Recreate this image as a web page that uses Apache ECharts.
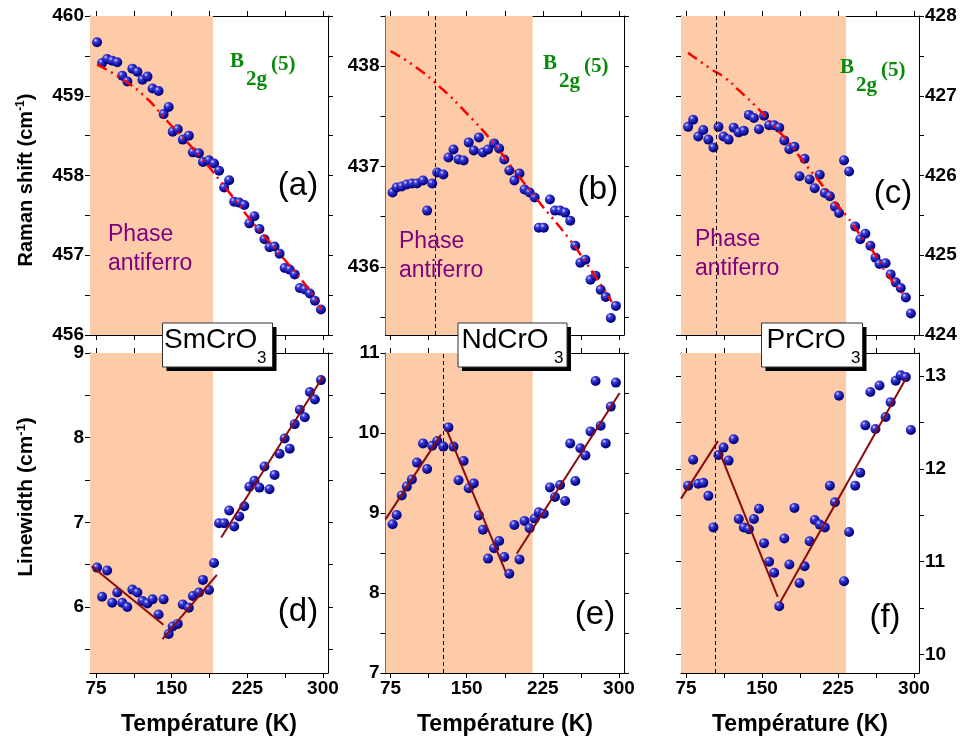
<!DOCTYPE html>
<html><head><meta charset="utf-8">
<script src="https://cdn.jsdelivr.net/npm/echarts@6/dist/echarts.min.js"></script>
<style>html,body{margin:0;padding:0;background:#fff}#c{width:960px;height:740px}</style>
</head><body><div id="c"></div>
<script>
// ---------- DATA ----------
const tempTicks  = [75, 112.5, 150, 187.5, 225, 262.5, 300];
const tempLabels = [75, 150, 225, 300];

const tempSm = [76,81,86,91,96,101,106,111,116,121,126,131,137,142,147,151,156,161,167,171,177,181,187,192,197,202,207,212,217,222,227,232,237,242,247,252,257,262,267,272,277,282,287,292,298];
const shiftSm = [459.67,459.41,459.46,459.44,459.42,459.25,459.18,459.34,459.30,459.20,459.24,459.09,459.06,458.77,458.86,458.55,458.58,458.45,458.50,458.29,458.28,458.17,458.19,458.15,458.06,457.85,457.94,457.67,457.66,457.63,457.40,457.49,457.33,457.20,457.10,457.11,457.02,456.84,456.82,456.76,456.59,456.57,456.52,456.43,456.32];
const widthSm = [6.465,6.12,6.43,6.05,6.17,6.05,6.0,6.205,6.17,6.07,6.04,6.09,5.91,6.09,5.68,5.77,5.80,6.03,5.99,6.13,6.17,6.32,6.20,6.52,6.99,6.99,7.14,6.95,7.07,7.19,7.42,7.49,7.41,7.66,7.39,7.56,7.81,7.99,7.87,8.16,8.33,8.24,8.54,8.45,8.68];

const tempNd = [77,81,86,91,96,101,107,111,116,121,127,132,137,142,147,152,157,162,166,171,177,182,187,192,197,202,207,212,217,221,226,232,237,242,247,252,257,262,267,272,277,282,287,292,297];
const shiftNd = [436.74,436.79,436.80,436.82,436.83,436.83,436.86,436.56,436.83,436.94,436.92,437.09,437.17,437.07,437.06,437.24,437.16,437.29,437.14,437.17,437.23,437.18,437.07,436.96,436.86,436.93,436.77,436.74,436.69,436.39,436.39,436.67,436.56,436.56,436.54,436.46,436.21,436.04,436.07,435.87,435.91,435.77,435.70,435.49,435.61];
const widthNd = [8.86,8.975,9.22,9.33,9.42,9.63,9.87,9.55,9.84,9.90,9.83,10.07,9.83,9.41,9.65,9.31,9.37,8.97,8.79,8.43,8.56,8.65,8.45,8.24,8.85,8.42,8.90,8.81,8.93,9.01,8.99,9.32,9.20,9.35,9.15,9.87,9.40,9.81,9.72,10.02,10.65,10.09,9.87,10.33,10.63];

const tempPr = [77,82,87,92,97,102,107,112,117,122,127,132,137,142,147,152,157,162,167,172,177,182,187,192,197,202,207,212,217,222,226,231,236,242,247,252,257,262,266,272,277,282,287,292,297];
const shiftPr = [426.61,426.70,426.49,426.57,426.45,426.35,426.61,426.49,426.45,426.60,426.54,426.56,426.76,426.72,426.58,426.75,426.63,426.63,426.60,426.44,426.33,426.36,425.99,426.21,425.95,425.84,426.01,425.78,425.74,425.61,425.53,426.19,426.05,425.36,425.20,425.27,425.12,424.97,424.89,424.90,424.76,424.66,424.59,424.47,424.27];
const widthPr = [11.82,12.10,11.84,11.85,11.71,11.37,12.15,12.23,12.09,12.32,11.46,11.37,11.35,11.46,11.57,11.20,11.00,10.88,10.52,11.25,10.97,11.58,10.77,10.95,11.22,11.45,11.40,11.37,11.82,11.64,12.79,10.79,11.32,11.82,11.96,12.47,12.83,12.43,12.90,12.56,12.72,12.95,13.01,12.99,12.42];

// anharmonic fits (red dash-dot-dot)
const fitShiftSm = [[76,459.39],[102,459.20],[125,458.97],[145,458.69],[178,458.24],[205,457.82],[231,457.40],[261,456.96],[289,456.52],[298,456.32]];
const fitShiftNd = [[75,438.15],[100,437.99],[125,437.78],[150,437.53],[175,437.25],[200,436.92],[225,436.60],[250,436.29],[275,435.93],[293,435.65]];
const fitShiftPr = [[77,427.54],[99,427.34],[114,427.22],[127,427.07],[146,426.84],[161,426.63],[176,426.42],[194,426.12],[207,425.92],[220,425.69],[233,425.50],[246,425.27],[260,425.04],[273,424.77],[289,424.52]];

// linear fits of linewidth (dark red)
const linWidthSm = [[[70.7,6.48],[141.8,5.79]], [[140.8,5.62],[194.8,6.38]], [[199.1,6.82],[300,8.72]]];
const linWidthNd = [[[70,8.92],[124.7,9.98]], [[130.3,10.04],[188.5,8.26]], [[199.3,8.49],[300.7,10.5]]];
const linWidthPr = [[[70,11.68],[106.5,12.30]], [[107.8,12.19],[165.5,10.62]], [[167.8,10.56],[292.4,12.98]]];

// transition temperatures (shaded region end) and dashed markers
const tNeelSm = 191, tNeelNd = 215, tNeelPr = 233;
const dashShiftNd = 119, dashWidthNd = 127, dashShiftPr = 105, dashWidthPr = 103.5;

// axis ranges / ticks
const yRangeShiftSm = [456, 460],   yTicksShiftSm = [456,456.5,457,457.5,458,458.5,459,459.5,460], yLabelsShiftSm = [456,457,458,459,460];
const yRangeShiftNd = [435.32, 438.5], yTicksShiftNd = [435.5,436,436.5,437,437.5,438,438.5], yLabelsShiftNd = [436,437,438];
const yRangeShiftPr = [424, 428],   yTicksShiftPr = [424,424.5,425,425.5,426,426.5,427,427.5,428], yLabelsShiftPr = [424,425,426,427,428];
const yRangeWidthSm = [5.22, 9],    yTicksWidthSm = [5.5,6,6.5,7,7.5,8,8.5,9], yLabelsWidthSm = [6,7,8,9];
const yRangeWidthNd = [7, 11],      yTicksWidthNd = [7,7.5,8,8.5,9,9.5,10,10.5,11], yLabelsWidthNd = [7,8,9,10,11];
const yRangeWidthPr = [9.8, 13.25], yTicksWidthPr = [10,10.5,11,11.5,12,12.5,13], yLabelsWidthPr = [10,11,12,13];

// ---------- LAYOUT ----------
const F = 'Arial, "Liberation Sans", sans-serif';
const panels = [
  {grid:{left:90,top:16,width:238,height:319}, xMin:69, yr:yRangeShiftSm, yt:yTicksShiftSm, yl:yLabelsShiftSm, ySide:'left', bottom:false, temp:tempSm, vals:shiftSm, tn:tNeelSm, dash:null, fit:fitShiftSm, lin:null},
  {grid:{left:385.5,top:16,width:238.5,height:319}, xMin:70, yr:yRangeShiftNd, yt:yTicksShiftNd, yl:yLabelsShiftNd, ySide:'left', bottom:false, temp:tempNd, vals:shiftNd, tn:tNeelNd, dash:dashShiftNd, fit:fitShiftNd, lin:null},
  {grid:{left:681,top:16,width:238,height:319}, xMin:70, yr:yRangeShiftPr, yt:yTicksShiftPr, yl:yLabelsShiftPr, ySide:'right', bottom:false, temp:tempPr, vals:shiftPr, tn:tNeelPr, dash:dashShiftPr, fit:fitShiftPr, lin:null},
  {grid:{left:90,top:353,width:238,height:320}, xMin:69, yr:yRangeWidthSm, yt:yTicksWidthSm, yl:yLabelsWidthSm, ySide:'left', bottom:true, temp:tempSm, vals:widthSm, tn:tNeelSm, dash:null, fit:null, lin:linWidthSm},
  {grid:{left:385.5,top:353,width:238.5,height:320}, xMin:70, yr:yRangeWidthNd, yt:yTicksWidthNd, yl:yLabelsWidthNd, ySide:'left', bottom:true, temp:tempNd, vals:widthNd, tn:tNeelNd, dash:dashWidthNd, fit:null, lin:linWidthNd},
  {grid:{left:681,top:353,width:238,height:320}, xMin:70, yr:yRangeWidthPr, yt:yTicksWidthPr, yl:yLabelsWidthPr, ySide:'right', bottom:true, temp:tempPr, vals:widthPr, tn:tNeelPr, dash:dashWidthPr, fit:null, lin:linWidthPr}
];

const ball = new echarts.graphic.RadialGradient(0.35, 0.3, 0.75, [
  {offset:0, color:'#dcdcff'}, {offset:0.25, color:'#4040d8'}, {offset:0.7, color:'#0c0c9c'}, {offset:1, color:'#000060'}]);

const grids = [], xAxes = [], yAxes = [], series = [];
const lab = {fontSize:19, fontWeight:'bold', color:'#000', fontFamily:F};
panels.forEach((p, i) => {
  grids.push(Object.assign({containLabel:false}, p.grid));
  ['bottom','top'].forEach(pos => {
    xAxes.push({type:'value', gridIndex:i, position:pos, min:p.xMin, max:305,
      axisLine:{show:true, onZero:false, lineStyle:{color:'#000', width:1}},
      axisTick:{show:true, inside:false, length:5, customValues:tempTicks, lineStyle:{color:'#000', width:1}},
      axisLabel:Object.assign({show:(pos==='bottom' && p.bottom), customValues:tempLabels, margin:6}, lab),
      splitLine:{show:false}});
  });
  ['left','right'].forEach(pos => {
    yAxes.push({type:'value', gridIndex:i, position:pos, min:p.yr[0], max:p.yr[1],
      axisLine:{show:true, onZero:false, lineStyle:{color:'#000', width:1}},
      axisTick:{show:true, inside:false, length:5, customValues:p.yt, lineStyle:{color:'#000', width:1}},
      axisLabel:Object.assign({show:(pos===p.ySide), customValues:p.yl, margin:6}, lab),
      splitLine:{show:false}});
  });
  const xi = i*2, yi = i*2;
  const shade = {type:'scatter', xAxisIndex:xi, yAxisIndex:yi, data:[[p.tn, p.yr[0]]], symbolSize:0, silent:true, z:1,
    markArea:{silent:true, itemStyle:{color:'#fdcba8', opacity:1}, data:[[{coord:[p.xMin, p.yr[0]]}, {coord:[p.tn, p.yr[1]]}]]}};
  if (p.dash !== null) {
    shade.markLine = {silent:true, symbol:['none','none'], label:{show:false},
      lineStyle:{type:[4,3], color:'#000', width:1}, data:[{xAxis:p.dash}]};
  }
  series.push(shade);
  series.push({type:'scatter', xAxisIndex:xi, yAxisIndex:yi, z:3, symbolSize:10,
    itemStyle:{color:ball, opacity:1}, data:p.temp.map((t,k)=>[t, p.vals[k]])});
  if (p.fit) {
    series.push({type:'line', xAxisIndex:xi, yAxisIndex:yi, z:4, smooth:true, showSymbol:false, symbol:'none',
      lineStyle:{color:'#ff0000', width:2.5, type:[11,5,2,5,2,5]}, data:p.fit});
  }
  if (p.lin) {
    p.lin.forEach(seg => series.push({type:'line', xAxisIndex:xi, yAxisIndex:yi, z:4, showSymbol:false, symbol:'none',
      lineStyle:{color:'#8b0a0a', width:2}, data:seg}));
  }
});

// ---------- TEXT / ANNOTATIONS ----------
const graphic = [];
const txt = (x, y, text, font, fill, align, va, extra) => Object.assign({type:'text', x:x, y:y, z:100,
  style:{text:text, font:font, fill:fill, align:align||'left', verticalAlign:va||'middle'}}, extra||{});

[['(a)',298,186],['(b)',598,190],['(c)',893,194],['(d)',298,612],['(e)',595,615],['(f)',885,618]]
  .forEach(l => graphic.push(txt(l[1], l[2], l[0], 'normal 33px '+F, '#000', 'center')));

[[230,62],[543,63.5],[840,67.5]].forEach(b => {
  const f = 'bold 21px "Liberation Serif", "Times New Roman", serif';
  graphic.push(txt(b[0], b[1], 'B', f, '#0a8a0a'));
  graphic.push(txt(b[0]+16, b[1]+18, '2g', f, '#0a8a0a'));
  graphic.push(txt(b[0]+41, b[1]+3, '(5)', f, '#0a8a0a'));
});

[[108,235],[399,242],[695,240]].forEach(q => {
  graphic.push(txt(q[0], q[1], 'Phase', 'normal 23px '+F, '#800080'));
  graphic.push(txt(q[0], q[1]+29, 'antiferro', 'normal 23px '+F, '#800080'));
});

[[162.5,110,'SmCrO',164,257],[458,109,'NdCrO',461.5,554],[761.5,101,'PrCrO',766.5,851]].forEach(m => {
  graphic.push({type:'rect', z:90, shape:{x:m[0]+4, y:327, width:m[1], height:44}, style:{fill:'#000'}});
  graphic.push({type:'rect', z:91, shape:{x:m[0], y:323, width:m[1], height:44}, style:{fill:'#fff', stroke:'#333', lineWidth:1}});
  graphic.push(txt(m[3], 340, m[2], 'normal 28px '+F, '#000', 'left', 'middle', {z:95}));
  graphic.push(txt(m[4], 358, '3', 'normal 17px '+F, '#000', 'left', 'middle', {z:95}));
});

[209, 505, 800].forEach(cx => graphic.push(txt(cx, 725, 'Température (K)', 'bold 23px '+F, '#000', 'center')));
const yTitle = (cy, main, fs) => ({type:'text', x:26, y:cy, rotation:Math.PI/2, z:100,
  style:{text:'{a|'+main+' (cm}{s|-1}{a|)}', align:'center', verticalAlign:'middle',
    rich:{a:{fontSize:fs, fontWeight:'bold', fontFamily:F, fill:'#000', lineHeight:fs+2},
          s:{fontSize:Math.round(fs*0.6), fontWeight:'bold', fontFamily:F, fill:'#000', verticalAlign:'top', lineHeight:Math.round(fs*0.6)}}}});
graphic.push(yTitle(180, 'Raman shift', 20));
graphic.push(yTitle(497, 'Linewidth', 21));

const chart = echarts.init(document.getElementById('c'), null, {renderer:'canvas'});
chart.setOption({animation:false, backgroundColor:'#fff', grid:grids, xAxis:xAxes, yAxis:yAxes, series:series, graphic:graphic});
</script></body></html>
